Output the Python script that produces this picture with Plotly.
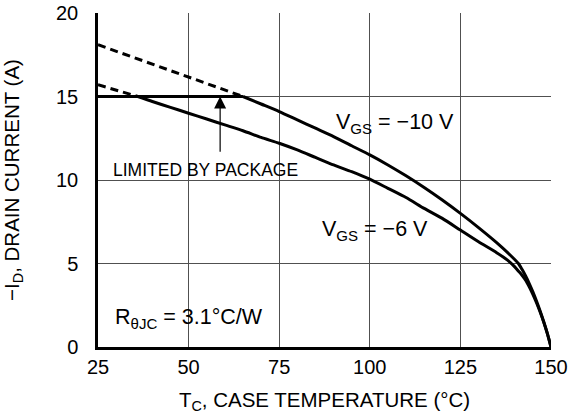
import plotly.graph_objects as go

# Package-limited current
pkg_t = [25, 65]
pkg_i = [15.0, 15.0]

# VGS = -10 V
v10_dash_t = [25, 65]
v10_dash_i = [18.1, 15.0]
v10_t = [65, 70, 75, 80, 85, 90, 95, 100, 105, 110, 115, 120, 125, 130, 135, 139, 141, 142, 143, 144, 145, 146, 147, 148, 149, 150]
v10_i = [15.0, 14.55, 14.1, 13.6, 13.1, 12.6, 12.05, 11.5, 10.9, 10.25, 9.55, 8.8, 8.0, 7.15, 6.25, 5.45, 5.0, 4.65, 4.25, 3.8, 3.3, 2.75, 2.15, 1.5, 0.8, 0.0]

# VGS = -6 V
v6_dash_t = [25, 36]
v6_dash_i = [15.7, 15.0]
v6_t = [36, 40, 45, 50, 55, 60, 65, 70, 75, 80, 85, 90, 95, 100, 105, 110, 115, 120, 125, 130, 135, 138, 140, 141, 142, 143, 144, 145, 146, 147, 148, 149, 150]
v6_i = [15.0, 14.7, 14.35, 14.0, 13.65, 13.3, 12.95, 12.55, 12.2, 11.8, 11.35, 10.9, 10.5, 10.05, 9.5, 8.95, 8.3, 7.7, 7.0, 6.3, 5.65, 5.2, 4.8, 4.55, 4.3, 4.0, 3.6, 3.15, 2.65, 2.1, 1.5, 0.8, 0.0]

x_ticks = [25, 50, 75, 100, 125, 150]
y_ticks = [0, 5, 10, 15, 20]

FONT = "Arial, Liberation Sans, Helvetica, sans-serif"

fig = go.Figure()
line_w = 3
fig.add_trace(go.Scatter(x=v10_dash_t, y=v10_dash_i, mode="lines",
                         line=dict(color="black", width=line_w, dash="8px,5px"), showlegend=False))
fig.add_trace(go.Scatter(x=v6_dash_t, y=v6_dash_i, mode="lines",
                         line=dict(color="black", width=line_w, dash="8px,5px"), showlegend=False))
fig.add_trace(go.Scatter(x=pkg_t, y=pkg_i, mode="lines",
                         line=dict(color="black", width=line_w), showlegend=False))
fig.add_trace(go.Scatter(x=v10_t, y=v10_i, mode="lines",
                         line=dict(color="black", width=line_w, shape="spline", smoothing=0.6), showlegend=False))
fig.add_trace(go.Scatter(x=v6_t, y=v6_i, mode="lines",
                         line=dict(color="black", width=line_w, shape="spline", smoothing=0.6), showlegend=False))

# Arrow
fig.add_annotation(x=58.7, y=15, ax=58.7, ay=11.6, xref="x", yref="y", axref="x", ayref="y",
                   text="", showarrow=True, arrowhead=2, arrowsize=2, arrowwidth=1.2, arrowcolor="black")

fig.add_annotation(x=54.6, y=10.6, xref="x", yref="y", text="LIMITED BY PACKAGE", showarrow=False,
                   font=dict(size=17.5, color="black", family=FONT), xanchor="center", yanchor="middle")
fig.add_annotation(x=90.0, y=13.4, xref="x", yref="y", text="V<sub>GS</sub> = \u221210 V", showarrow=False,
                   font=dict(size=21.5, color="black", family=FONT), xanchor="left", yanchor="middle")
fig.add_annotation(x=86.3, y=7.0, xref="x", yref="y", text="V<sub>GS</sub> = \u22126 V", showarrow=False,
                   font=dict(size=21.5, color="black", family=FONT), xanchor="left", yanchor="middle")
fig.add_annotation(x=29.0, y=1.7, xref="x", yref="y", text="R<sub>\u03b8JC</sub> = 3.1\u00b0C/W", showarrow=False,
                   font=dict(size=21.5, color="black", family=FONT), xanchor="left", yanchor="middle")

fig.update_xaxes(range=[25, 150], tickvals=x_ticks, ticktext=[str(v) for v in x_ticks],
                 showgrid=True, gridcolor="#505050", gridwidth=1,
                 showline=True, linecolor="black", linewidth=2.5, ticks="", ticklabelstandoff=0,
                 zeroline=False, tickfont=dict(size=20, color="black", family=FONT),
                 title=dict(text="T<sub>C</sub>, CASE TEMPERATURE (\u00b0C)", standoff=16,
                            font=dict(size=20.5, color="black", family=FONT)))
fig.update_yaxes(range=[0, 20], tickvals=y_ticks, ticktext=[str(v) for v in y_ticks],
                 showgrid=True, gridcolor="#505050", gridwidth=1,
                 showline=True, linecolor="black", linewidth=2.5, ticks="", ticklabelstandoff=13,
                 zeroline=False, tickfont=dict(size=20, color="black", family=FONT),
                 title=dict(text="\u2212I<sub>D</sub>, DRAIN CURRENT (A)", standoff=34,
                            font=dict(size=20.5, color="black", family=FONT)))

fig.update_layout(width=569, height=414, margin=dict(l=98, r=18, t=13, b=67, autoexpand=False),
                  plot_bgcolor="white", paper_bgcolor="white")

# Remove the default page body margin so the figure fills the window exactly
fig.write_html("out.html", config={"displayModeBar": False},
               post_script="document.body.style.margin='0';document.body.style.overflow='hidden';")
